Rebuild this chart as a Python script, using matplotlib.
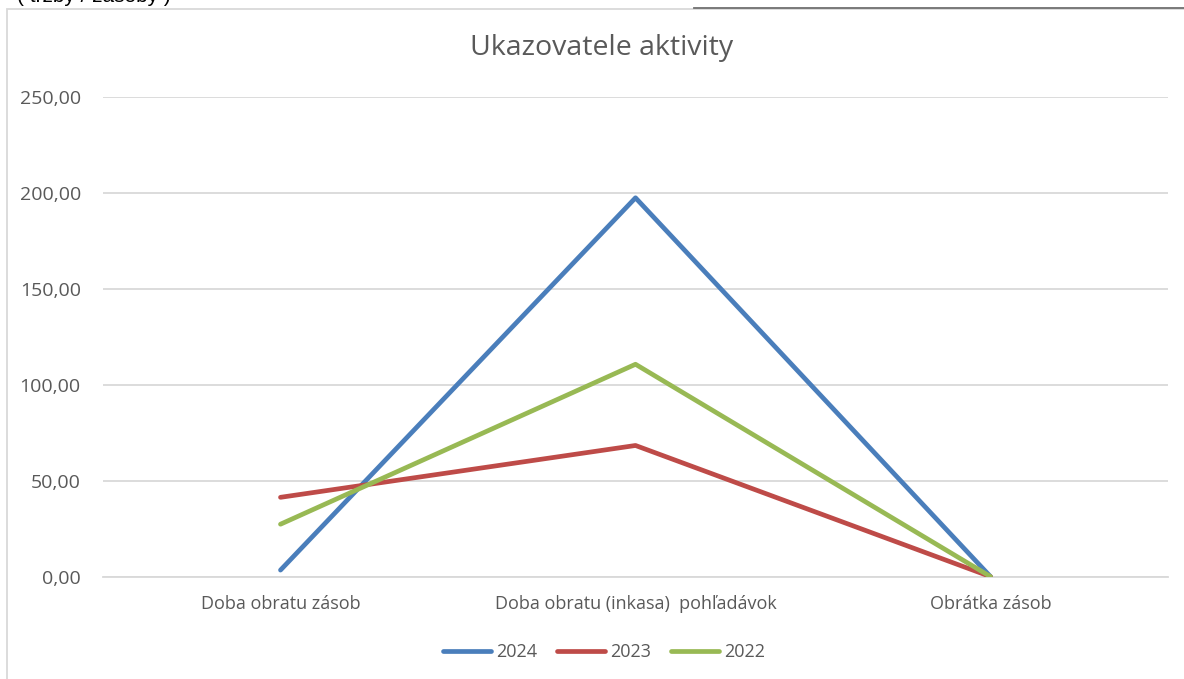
import matplotlib.pyplot as plt
from matplotlib.patches import Rectangle
from matplotlib.lines import Line2D
from matplotlib.ticker import FuncFormatter

categories = ['Doba obratu zásob', 'Doba obratu (inkasa)  pohľadávok', 'Obrátka zásob']
years = ['2024', '2023', '2022']
v2024 = [3.6, 197.5, 0.2]
v2023 = [41.5, 68.5, 0.2]
v2022 = [27.5, 110.8, 0.2]
colors = ['#4A7EBB', '#BE4B48', '#98B954']

plt.rcParams['font.family'] = ['Open Sans', 'DejaVu Sans']

W, H = 1184, 679
fig = plt.figure(figsize=(W / 100, H / 100), dpi=100)
ax = fig.add_axes([103 / W, 1 - 577 / H, (1168 - 103) / W, (577 - 97) / H])

x = range(len(categories))
for vals, lab, c in zip([v2024, v2023, v2022], years, colors):
    ax.plot(x, vals, color=c, lw=3.4, label=lab, solid_capstyle='round', zorder=3)

ax.set_xlim(-0.5, 2.5)
ax.set_ylim(0, 250)
ax.set_yticks([0, 50, 100, 150, 200, 250])
ax.yaxis.set_major_formatter(FuncFormatter(lambda v, p: f'{v:.2f}'.replace('.', ',')))
ax.set_xticks(list(x))
ax.set_xticklabels(categories)
ax.grid(axis='y', color='#d9d9d9', lw=1.3)
ax.set_axisbelow(True)
for s in ax.spines.values():
    s.set_visible(False)
ax.spines['bottom'].set_visible(True)
ax.spines['bottom'].set_color('#d9d9d9')
ax.spines['bottom'].set_linewidth(1.3)
ax.tick_params(length=0, labelcolor='#595959')
ax.tick_params(axis='x', labelsize=13, pad=13)
ax.tick_params(axis='y', labelsize=14, pad=16)

fig.text(602 / W, 1 - 48 / H, 'Ukazovatele aktivity', ha='center', va='center',
         fontsize=20.5, color='#595959')

handles = [Line2D([0], [0], color=c, lw=3.4, solid_capstyle='round') for c in colors]
fig.legend(handles, years, loc='center', bbox_to_anchor=(604 / W, 1 - 652 / H), ncol=3,
           frameon=False, fontsize=13, labelcolor='#595959', handlelength=2.67,
           handletextpad=0.28, columnspacing=1.1)

# chart border and page elements
fig.patches.append(Rectangle((7 / W, -0.1), 1.2, 1 - 9 / H + 0.1, transform=fig.transFigure,
                             fill=False, ec='#d9d9d9', lw=1.3))
fig.lines.append(Line2D([694 / W, 1], [1 - 8 / H, 1 - 8 / H], transform=fig.transFigure,
                        color='#707070', lw=1.3))
fig.text(17 / W, 1 - 2 / H, '( tržby / zásoby )', ha='left', va='baseline',
         fontsize=15, color='black', family=['Liberation Sans', 'DejaVu Sans'])

fig.savefig('out.png', dpi=100)
